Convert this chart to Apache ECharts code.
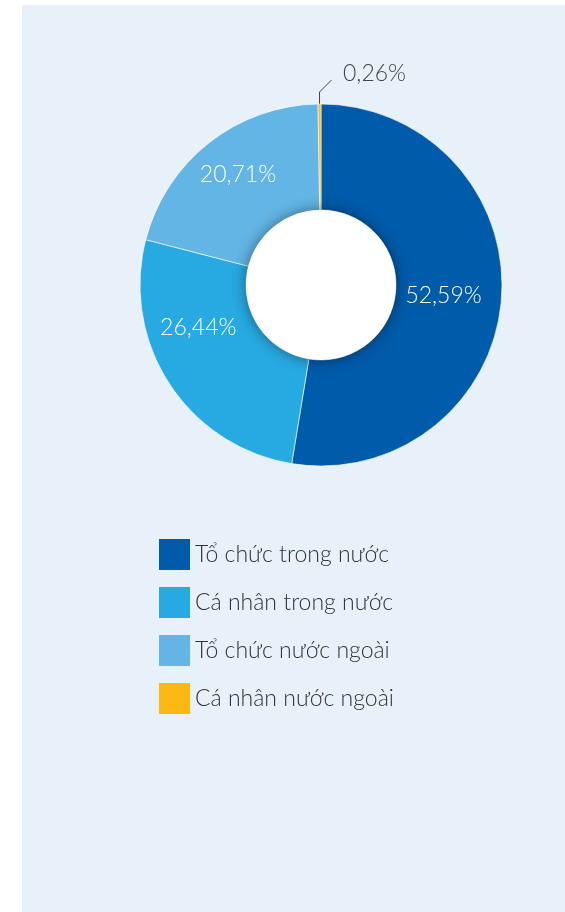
<!DOCTYPE html>
<html>
<head>
<meta charset="utf-8">
<script src="https://cdn.jsdelivr.net/npm/echarts@6/dist/echarts.min.js"></script>
<style>
  html, body { margin: 0; padding: 0; background: #fff; }
  #panel { position: absolute; left: 22px; top: 5px; width: 543px; height: 907px; background: #e8f1fa; }
  #chart { position: absolute; left: 0; top: 0; width: 565px; height: 912px; }
</style>
</head>
<body>
<div id="panel"></div>
<div id="chart"></div>
<script>
  const categories = ["Tổ chức trong nước", "Cá nhân trong nước", "Tổ chức nước ngoài", "Cá nhân nước ngoài"];
  const shares = [52.59, 26.44, 20.71, 0.26];
  const colors = ["#005baa", "#27a9e1", "#62b5e5", "#fdb913"];

  // small nudges so inside labels sit where the original has them
  const labelOffsets = [[-8, 0], [-13, -29], [-2, -7], [0, 0]];

  const fmt = (v) => v.toFixed(2).replace(".", ",") + "%";

  const chart = echarts.init(document.getElementById("chart"));

  const option = {
    animation: false,
    legend: {
      orient: "vertical",
      left: 159,
      top: 539,
      padding: 0,
      itemWidth: 31,
      itemHeight: 31,
      itemGap: 17,
      icon: "rect",
      data: categories,
      itemStyle: { borderWidth: 0 },
      textStyle: {
        fontFamily: "Lato",
        fontWeight: 300,
        fontSize: 23,
        lineHeight: 26,
        color: "#333",
      },
    },
    series: [
      {
        type: "pie",
        center: [321, 285],
        radius: [75, 181],
        startAngle: 90,
        clockwise: true,
        avoidLabelOverlap: false,
        itemStyle: {
          borderColor: "rgba(255,255,255,0.6)",
          borderWidth: 1,
        },
        label: {
          position: "inside",
          color: "#fff",
          fontFamily: "Lato",
          fontWeight: 300,
          fontSize: 23,
          formatter: (p) => fmt(p.value),
        },
        labelLayout: (params) => {
          if (params.dataIndex === 3) {
            const p0 = params.labelLinePoints ? params.labelLinePoints[0] : [319.5, 104];
            return {
              x: 343,
              y: 74,
              align: "left",
              verticalAlign: "middle",
              labelLinePoints: [p0, [p0[0], p0[1] - 12], [p0[0] + 12, p0[1] - 24]],
            };
          }
        },
        data: categories.map((name, i) => {
          const item = {
            name: name,
            value: shares[i],
            itemStyle: { color: colors[i] },
            label: { offset: labelOffsets[i] },
          };
          if (i === 3) {
            item.label = {
              position: "outside",
              color: "#444",
              fontWeight: 300,
            };
            item.labelLine = {
              show: true,
              length: 12,
              length2: 10,
              lineStyle: { color: "#444", width: 1 },
            };
          }
          return item;
        }),
      },
      {
        // white hole with a soft shadow onto the ring
        type: "pie",
        center: [321, 285],
        radius: [0, 75],
        silent: true,
        z: 5,
        label: { show: false },
        labelLine: { show: false },
        itemStyle: {
          color: "#fff",
          shadowBlur: 14,
          shadowColor: "rgba(0,0,0,0.45)",
        },
        data: [{ value: 1, name: "" }],
      },
    ],
  };

  chart.setOption(option);
</script>
</body>
</html>
